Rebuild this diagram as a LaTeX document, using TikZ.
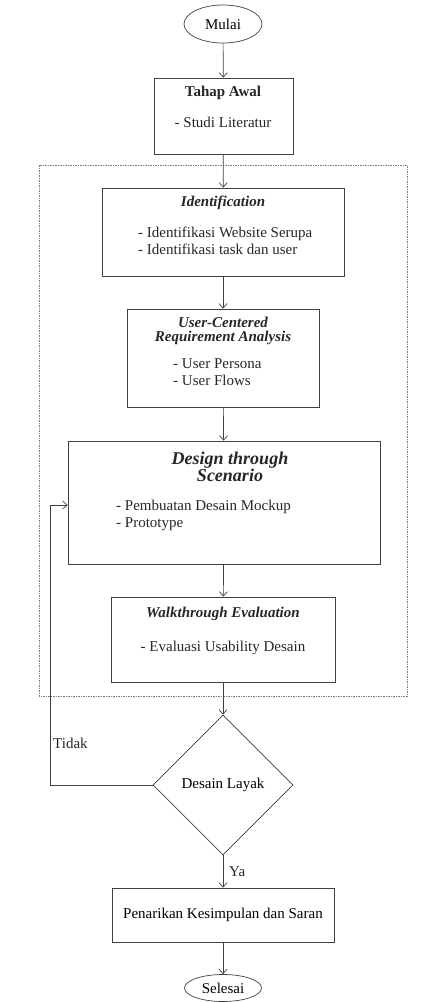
\documentclass[tikz,border=0pt]{standalone}
\usepackage{fontspec}
\setmainfont{Liberation Serif}
\usetikzlibrary{shapes.geometric,positioning,arrows.meta}

\tikzset{
  box/.style={draw=black!75, line width=0.7pt, rectangle, inner sep=0pt},
  term/.style={draw=black!75, line width=0.7pt, ellipse, inner sep=0pt,
    font=\fontsize{15}{17}\selectfont},
  cond/.style={draw=black!75, line width=0.7pt, diamond, inner sep=0pt,
    minimum width=140pt, minimum height=140pt, font=\fontsize{15}{17}\selectfont},
  txt/.style={inner sep=0pt, text=black!85, font=\fontsize{15}{17}\selectfont},
  head/.style={inner sep=0pt, text=black!85, font=\fontsize{15}{14}\selectfont\bfseries\itshape, align=center},
  flow/.style={-{Straight Barb[length=4.5pt,width=8pt]}, draw=black!75, line width=0.7pt}
}

\begin{document}
\begin{tikzpicture}[x=1pt,y=-1pt]
\useasboundingbox (0,0) rectangle (446,1002);

% terminals
\node[term, minimum width=78pt, minimum height=38pt] (mulai) at (223,24) {Mulai};
\node[term, minimum width=77pt, minimum height=27pt] (selesai) at (223,988) {Selesai};

% area of the iterative stages
\draw[gray, line width=0.5pt, dash pattern=on 1.5pt off 1pt] (39,165) rectangle (407,696);

% Tahap Awal
\node[box, minimum width=139pt, minimum height=76pt] (awal) at (223.5,116) {};
\node[txt, font=\fontsize{15}{17}\selectfont\bfseries] (awalT) at (223,93) {Tahap Awal};
\node[txt] (awalI) at (223,122) {- Studi Literatur};

% Identification
\node[box, minimum width=242pt, minimum height=88pt] (ident) at (223,232) {};
\node[head] (identT) at (223,203) {Identification};
\node[txt, anchor=west, align=left] (identI) at (138,240.5)
  {- Identifikasi Website Serupa\\- Identifikasi task dan user};

% User-Centered Requirement Analysis
\node[box, minimum width=192pt, minimum height=98pt] (ucra) at (223,358) {};
\node[head] (ucraT) at (223,331) {User-Centered\\Requirement Analysis};
\node[txt, anchor=west, align=left] (ucraI) at (173,372.5)
  {- User Persona\\- User Flows};

% Design through Scenario
\node[box, minimum width=312pt, minimum height=123pt] (design) at (224,502.5) {};
\node[head, font=\fontsize{18}{17}\selectfont\bfseries\itshape] (designT) at (230,466.5)
  {Design through\\Scenario};
\node[txt, anchor=west, align=left] (designI) at (116,515)
  {- Pembuatan Desain Mockup\\- Prototype};

% Walkthrough Evaluation
\node[box, minimum width=224pt, minimum height=85pt] (walk) at (223,639.5) {};
\node[head] (walkT) at (223,614) {Walkthrough Evaluation};
\node[txt] (walkI) at (223,648) {- Evaluasi Usability Desain};

% decision and conclusion
\node[cond] (layak) at (223,785) {Desain Layak};
\node[box, minimum width=222pt, minimum height=54pt, font=\fontsize{15}{17}\selectfont] (simpul) at (223,915)
  {Penarikan Kesimpulan dan Saran};

% connectors
\draw[flow] (mulai) -- (awal);
\draw[flow] (awal) -- (ident);
\draw[flow] (ident) -- (ucra);
\draw[flow] (ucra) -- (design);
\draw[flow] (design) -- (walk);
\draw[flow] (walk) -- (layak);
\draw[flow] (layak) -- (simpul);
\draw[flow] (simpul) -- (selesai);

\coordinate (balik) at (50,505);
\draw[flow] (layak.west) -| (balik) -- (balik -| design.west);

\node[txt, anchor=west] (tidak) at (53,743) {Tidak};
\node[txt, anchor=west] (ya) at (229,872) {Ya};

\end{tikzpicture}
\end{document}
